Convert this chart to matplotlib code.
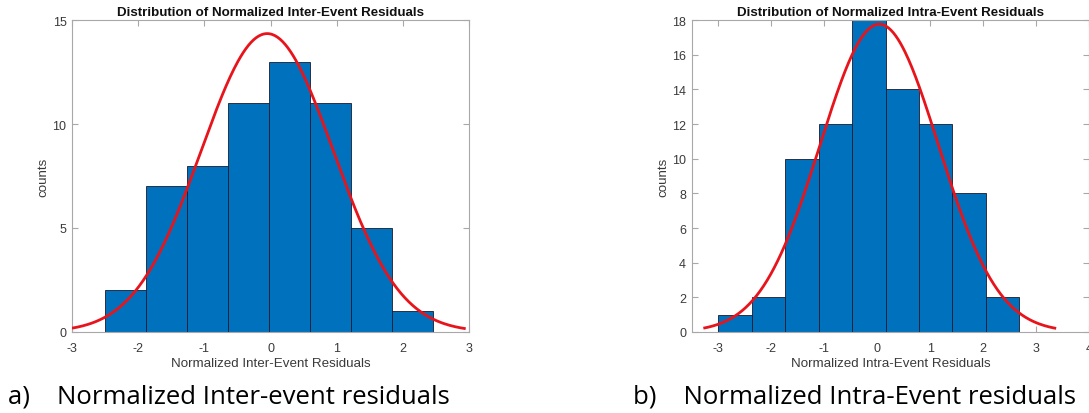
import numpy as np
import matplotlib
matplotlib.use("Agg")
import matplotlib.pyplot as plt

# ---- data ----
inter_edges = [-2.50, -1.88, -1.26, -0.64, -0.02, 0.60, 1.22, 1.84, 2.46]
inter_counts = [2, 7, 8, 11, 13, 11, 5, 1]
inter_fit_mu, inter_fit_sigma = -0.05, 1.00
inter_fit_range = (-3.0, 2.95)

intra_edges = [-3.00, -2.37, -1.74, -1.105, -0.47, 0.16, 0.79, 1.42, 2.05, 2.68]
intra_counts = [1, 2, 10, 12, 18, 14, 12, 8, 2]
intra_fit_mu, intra_fit_sigma = 0.04, 1.12
intra_fit_range = (-3.28, 3.38)

inter_xticks = [-3, -2, -1, 0, 1, 2, 3]
inter_yticks = [0, 5, 10, 15]
intra_xticks = [-3, -2, -1, 0, 1, 2, 3, 4]
intra_yticks = [0, 2, 4, 6, 8, 10, 12, 14, 16, 18]

titles = ["Distribution of Normalized Inter-Event Residuals",
          "Distribution of Normalized Intra-Event Residuals"]
xlabels = ["Normalized Inter-Event Residuals", "Normalized Intra-Event Residuals"]
captions = ["a)    Normalized Inter-event residuals", "b)    Normalized Intra-Event residuals"]

BAR = "#0072BD"
SPINE = "#a8a8a8"
TXT = "#3a3a3a"

fig = plt.figure(figsize=(10.89, 4.14), dpi=100)
axL = fig.add_axes([72/1089, 1-333/414, 397/1089, 312/414])
axR = fig.add_axes([691.7/1089, 1-333/414, 397.3/1089, 312/414])

def draw(ax, edges, counts, mu, sigma, rng, xlim, ylim, xt, yt, title, xlabel):
    edges = np.asarray(edges)
    counts = np.asarray(counts)
    widths = np.diff(edges)
    ax.bar(edges[:-1], counts, width=widths, align="edge", color=BAR,
           edgecolor="#1a1a2e", linewidth=0.6, zorder=2)
    n = counts.sum()
    bw = widths.mean()
    xs = np.linspace(rng[0], rng[1], 300)
    ys = n * bw / (sigma * np.sqrt(2 * np.pi)) * np.exp(-0.5 * ((xs - mu) / sigma) ** 2)
    ax.plot(xs, ys, color="#e8141b", lw=2.0, zorder=3, solid_capstyle="butt")
    ax.set_xlim(*xlim)
    ax.set_ylim(*ylim)
    ax.set_xticks(xt)
    ax.set_yticks(yt)
    ax.set_xticklabels([str(v) for v in xt])
    ax.set_yticklabels([str(v) for v in yt])
    for s in ax.spines.values():
        s.set_color(SPINE)
        s.set_linewidth(0.8)
    ax.tick_params(axis="both", direction="in", length=4, width=0.8, color=SPINE,
                   labelcolor=TXT, labelsize=9, top=True, right=True)
    ax.tick_params(axis="x", pad=7.5)
    ax.tick_params(axis="y", pad=4)
    ax.set_title(title, fontsize=9.6, fontweight="bold", color="#111111", pad=3.5,
                 family="Liberation Sans")
    ax.set_xlabel(xlabel, fontsize=9.6, color=TXT, labelpad=2, family="Liberation Sans")
    ax.set_ylabel("counts", fontsize=9.6, color=TXT, labelpad=2, family="Liberation Sans")
    for lab in ax.get_xticklabels() + ax.get_yticklabels():
        lab.set_family("Liberation Sans")

draw(axL, inter_edges, inter_counts, inter_fit_mu, inter_fit_sigma, inter_fit_range,
     (-3, 3), (0, 15), inter_xticks, inter_yticks, titles[0], xlabels[0])
draw(axR, intra_edges, intra_counts, intra_fit_mu, intra_fit_sigma, intra_fit_range,
     (-3.5, 4), (0, 18), intra_xticks, intra_yticks, titles[1], xlabels[1])

fig.text(8/1089, 1-404/414, captions[0], fontsize=18.5, family="Open Sans", color="black",
         ha="left", va="baseline")
fig.text(633/1089, 1-404/414, captions[1], fontsize=18.5, family="Open Sans", color="black",
         ha="left", va="baseline")

fig.savefig("out.png", dpi=100)
